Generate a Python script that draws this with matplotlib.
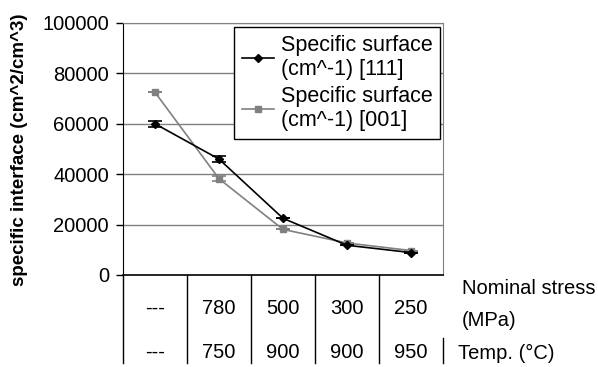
import numpy as np
import matplotlib
matplotlib.use("Agg")
import matplotlib.pyplot as plt
from matplotlib.lines import Line2D
from matplotlib.transforms import blended_transform_factory

plt.rcParams['font.family'] = ['Liberation Sans', 'DejaVu Sans']

stress = ["---", "780", "500", "300", "250"]
temp = ["---", "750", "900", "900", "950"]
surf_111 = [60000, 46000, 22500, 11800, 8900]
err_111 = [1300, 1200, 0, 0, 0]
surf_001 = [72500, 38200, 18100, 12700, 9700]
err_001 = [0, 1000, 0, 0, 0]
label_111 = "Specific surface\n(cm^-1) [111]"
label_001 = "Specific surface\n(cm^-1) [001]"

x = np.arange(len(stress))
fs = 14.5

fig = plt.figure(figsize=(5.98, 3.67), dpi=100)
ax = fig.add_axes([123/598, 92/367, 320/598, 252/367])

ax.errorbar(x, surf_001, yerr=err_001, color='#808080', marker='s', markersize=4,
            lw=1.2, capsize=5, capthick=1.2, elinewidth=1.2, zorder=3)
ax.errorbar(x, surf_111, yerr=err_111, color='black', marker='D', markersize=4,
            lw=1.2, capsize=5, capthick=1.2, elinewidth=1.2, zorder=4)

ax.set_xlim(-0.5, len(stress) - 0.5)
ax.set_ylim(0, 100000)
ax.set_yticks(np.arange(0, 100001, 20000))
ax.set_xticks([])
ax.tick_params(axis='y', labelsize=fs, length=5, width=1, direction='out', pad=5)
for v in range(20000, 100001, 20000):
    ax.axhline(v, color='#808080', lw=1, zorder=1)

ax.spines['left'].set_color('black')
ax.spines['bottom'].set_color('black')
ax.spines['bottom'].set_linewidth(1.2)
ax.spines['top'].set_color('#808080')
ax.spines['right'].set_color('#808080')

# category table below the axis
tr = blended_transform_factory(ax.transData, ax.transAxes)
for b in np.arange(-0.5, len(stress) - 0.5, 1.0):
    ax.plot([b, b], [0, -0.349], transform=tr, color='black', lw=1, clip_on=False)
ax.plot([len(stress) - 0.5] * 2, [-0.25, -0.349], transform=tr, color='black', lw=1, clip_on=False)
for i in range(len(stress)):
    ax.text(x[i], -0.131, stress[i], transform=tr, ha='center', va='center', fontsize=fs)
    ax.text(x[i], -0.306, temp[i], transform=tr, ha='center', va='center', fontsize=fs)

fig.text(462/598, 1 - 288/367, "Nominal stress", ha='left', va='center', fontsize=14.5)
fig.text(462/598, 1 - 320/367, "(MPa)", ha='left', va='center', fontsize=14.5)
fig.text(458/598, 1 - 353/367, "Temp. (\u00b0C)", ha='left', va='center', fontsize=14.5)

fig.text(20/598, 1 - 150/367, "specific interface (cm^2/cm^3)", rotation=90,
         ha='center', va='center', fontsize=13.5, fontweight='bold')

handles = [Line2D([], [], color='black', marker='D', markersize=4, lw=1.2),
           Line2D([], [], color='#808080', marker='s', markersize=4, lw=1.2)]
leg = ax.legend(handles, [label_111, label_001], loc='upper right', bbox_to_anchor=(0.99, 0.984),
                fontsize=15.5, frameon=True, fancybox=False, edgecolor='black',
                borderpad=0.35, handlelength=1.5, handletextpad=0.3, labelspacing=0.3,
                borderaxespad=0)
leg.get_frame().set_linewidth(1)
leg.get_frame().set_alpha(1)

fig.savefig("out.png", dpi=100)
